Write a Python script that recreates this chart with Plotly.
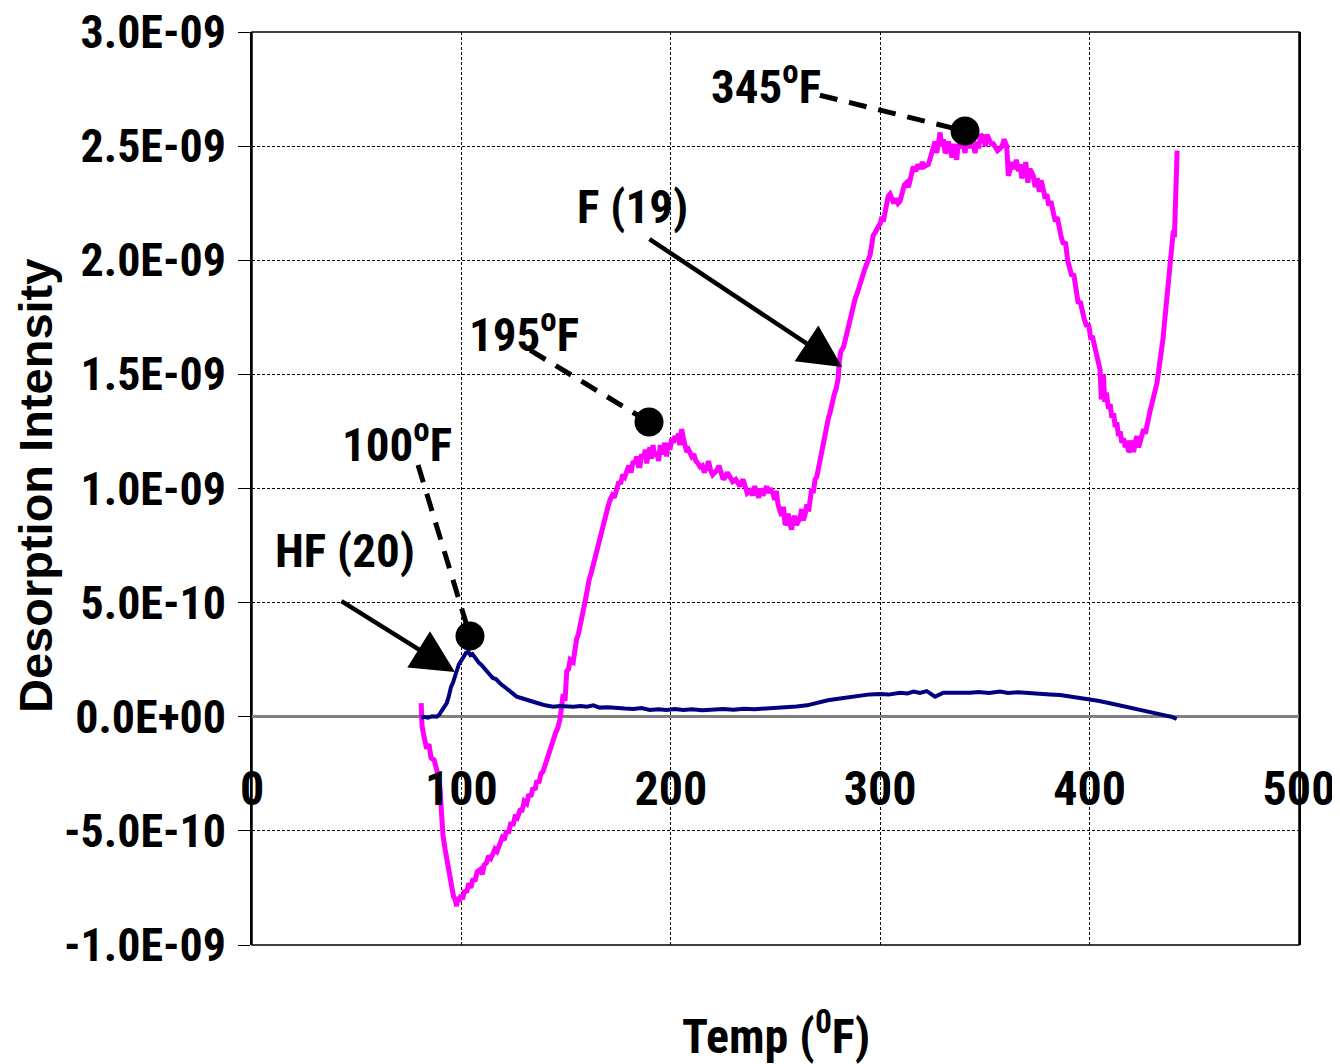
import plotly.graph_objects as go

# ---------------- data (y values in units of 1e-9) ----------------
f19_x = [80.8, 81.2, 82, 83.4, 84.5, 85.5, 87, 88.2, 89, 89.8, 90.3, 90.6, 91.2, 92.2, 93, 93.8, 94.6, 95.5, 96.3, 97,
         97.7, 98.3, 99, 99.8, 100.6, 101.5, 102.5, 103.5, 104.5, 105.5, 106.5, 107.5, 108.9, 110, 110.8, 112, 113, 114, 115.1, 116,
         117, 118.4, 119.5, 120.5, 121.5, 122.5, 123.5, 124.8, 125.8, 126.8, 128, 129, 130, 131.2, 132.2, 133.2, 134.2, 135.2, 136, 137,
         138, 139, 140, 140.7, 141.7, 142.6, 143.4, 144, 145, 146, 147.1, 147.8, 148.6, 149.5, 150.3, 151.2, 152, 153.4, 154.2, 155,
         155.8, 156.7, 157.5, 158.3, 159.2, 160, 161, 162, 162.8, 163.8, 164.6, 165.5, 166.5, 167.8, 168.8, 170, 171, 172, 173, 174.2,
         175.2, 176, 177, 178, 179, 180, 181, 182, 183, 183.7, 184.5, 185.3, 186, 187, 187.8, 188.5, 189.3, 190, 190.8, 191.5,
         192.3, 193.3, 194.2, 195, 195.8, 196.4, 197.2, 198, 198.8, 199.6, 200.5, 201.2, 202, 202.8, 203.6, 204.3, 205.2, 206, 206.8, 207.6,
         208.5, 209.2, 210, 211, 212, 213, 214, 215, 216, 217, 218, 219, 220, 221, 222, 223, 224, 225, 226, 227,
         228.3, 229.5, 231, 232, 233, 234.5, 235.5, 236.5, 237.8, 239, 240, 241, 242, 243, 244, 245, 245.8, 246.5, 247.5, 248.8,
         249.6, 250.4, 251.2, 252.2, 253, 253.8, 254.6, 255.3, 256.1, 257, 257.7, 258.4, 259.2, 260, 260.8, 261.7, 262.5, 263.3, 264.2, 265,
         265.8, 266.5, 267.3, 268, 268.9, 269.7, 270.5, 271.3, 272, 272.6, 273.3, 274, 274.7, 275.3, 276, 277, 278, 279, 279.9, 280.5,
         281.2, 282.5, 283.5, 284.5, 285.6, 286.8, 288, 289.2, 290.4, 291.5, 292.6, 293.8, 295.1, 296, 296.7, 297.5, 298.3, 299.2, 300, 300.8,
         301.5, 302.3, 303, 303.8, 304.7, 305.5, 306.5, 307.5, 308.5, 309.5, 310.5, 311.5, 312.6, 313.5, 314.5, 315.8, 317, 318, 319, 320.2,
         321, 322.2, 323, 324, 325.4, 326.2, 327, 327.8, 328.6, 329.4, 330.2, 331, 331.8, 332.6, 333.5, 334.3, 335.1, 335.8, 336.5, 337.3,
         338, 338.8, 339.7, 340.5, 341.3, 342.1, 343, 343.8, 344.5, 345.3, 346.2, 347, 348, 349.3, 350.2, 351, 352, 353, 354, 355,
         356, 357.2, 358.2, 359.2, 360.4, 361.2, 362, 363, 364, 365, 366, 366.8, 367.6, 368.5, 369.5, 370.5, 371.5, 372.3, 373.1, 374,
         375, 376, 376.8, 377.9, 378.8, 379.6, 380.5, 381.5, 382.7, 383.6, 384.5, 385.5, 386.5, 387.5, 388.5, 389.5, 390.7, 391.5, 392.4, 393.2,
         393.8, 394.6, 395.5, 396.5, 397.5, 398.6, 399.5, 400.5, 401.5, 402.5, 403.4, 404.2, 405, 405.6, 406.1, 406.6, 407.2, 408, 409, 409.8,
         410.6, 411.5, 412.2, 413, 413.8, 414.6, 415.4, 416.2, 417, 417.8, 418.6, 419.4, 420.2, 421, 421.8, 422.6, 423.4, 424.1, 425, 425.8,
         426.6, 427.3, 428.1, 428.9, 429.7, 430.5, 431.3, 432.1, 432.9, 433.6, 434.4, 435.1, 435.7, 436.3, 436.9, 437.6, 438.2, 438.8, 439.4, 440,
         440.5, 440.9, 441.3, 441.6, 441.8]
f19_y = [0.06, -0.04, -0.08, -0.14, -0.12, -0.18, -0.19, -0.23, -0.26, -0.32, -0.40, -0.48, -0.52, -0.58, -0.63, -0.66, -0.715, -0.75, -0.79, -0.80,
         -0.83, -0.79, -0.81, -0.78, -0.80, -0.76, -0.77, -0.73, -0.75, -0.71, -0.72, -0.68, -0.67, -0.69, -0.65, -0.64, -0.61, -0.62, -0.60, -0.58,
         -0.59, -0.56, -0.53, -0.54, -0.50, -0.51, -0.47, -0.47, -0.43, -0.44, -0.41, -0.41, -0.37, -0.38, -0.34, -0.35, -0.31, -0.32, -0.28, -0.29,
         -0.25, -0.24, -0.21, -0.20, -0.17, -0.15, -0.11, -0.10, -0.07, -0.05, -0.01, 0.04, 0.10, 0.07, 0.20, 0.21, 0.25, 0.24, 0.30, 0.34,
         0.36, 0.41, 0.45, 0.47, 0.51, 0.56, 0.60, 0.63, 0.66, 0.70, 0.73, 0.76, 0.81, 0.85, 0.88, 0.92, 0.95, 0.97, 0.96, 1.01,
         1.03, 1.02, 1.06, 1.05, 1.08, 1.10, 1.07, 1.12, 1.11, 1.14, 1.10, 1.10, 1.15, 1.13, 1.17, 1.11, 1.16, 1.18, 1.13, 1.19,
         1.14, 1.16, 1.12, 1.19, 1.15, 1.18, 1.20, 1.14, 1.20, 1.17, 1.22, 1.20, 1.23, 1.21, 1.24, 1.19, 1.26, 1.22, 1.18, 1.16,
         1.17, 1.15, 1.14, 1.15, 1.12, 1.11, 1.095, 1.10, 1.07, 1.09, 1.12, 1.08, 1.06, 1.07, 1.08, 1.10, 1.06, 1.04, 1.05, 1.07,
         1.05, 1.03, 1.04, 1.02, 1.01, 1.04, 1.00, 0.98, 0.99, 0.97, 1.01, 0.98, 0.96, 1.00, 0.97, 0.99, 1.01, 0.98, 1.00, 0.98,
         0.95, 0.99, 0.93, 0.90, 0.88, 0.92, 0.84, 0.85, 0.89, 0.84, 0.82, 0.86, 0.88, 0.84, 0.86, 0.87, 0.91, 0.86, 0.89, 0.93,
         0.90, 0.95, 1.00, 0.98, 1.04, 1.05, 1.09, 1.12, 1.15, 1.18, 1.23, 1.26, 1.28, 1.31, 1.33, 1.38, 1.41, 1.44, 1.48, 1.56,
         1.60, 1.62, 1.66, 1.70, 1.75, 1.79, 1.83, 1.86, 1.90, 1.93, 1.96, 1.99, 2.02, 2.07, 2.11, 2.12, 2.14, 2.15, 2.16, 2.19,
         2.17, 2.21, 2.26, 2.28, 2.29, 2.27, 2.25, 2.27, 2.25, 2.26, 2.31, 2.33, 2.34, 2.32, 2.36, 2.41, 2.39, 2.42, 2.40, 2.43,
         2.41, 2.42, 2.42, 2.45, 2.50, 2.52, 2.47, 2.53, 2.56, 2.50, 2.53, 2.47, 2.48, 2.52, 2.49, 2.45, 2.51, 2.46, 2.44, 2.51,
         2.49, 2.53, 2.51, 2.47, 2.52, 2.49, 2.54, 2.50, 2.50, 2.47, 2.52, 2.49, 2.55, 2.54, 2.50, 2.55, 2.53, 2.51, 2.51, 2.49,
         2.48, 2.49, 2.50, 2.53, 2.50, 2.37, 2.39, 2.43, 2.40, 2.44, 2.39, 2.42, 2.36, 2.38, 2.43, 2.34, 2.40, 2.38, 2.37, 2.32,
         2.36, 2.30, 2.35, 2.31, 2.27, 2.29, 2.24, 2.26, 2.20, 2.17, 2.19, 2.13, 2.10, 2.07, 2.08, 2.00, 1.96, 1.93, 1.94, 1.88,
         1.86, 1.81, 1.82, 1.77, 1.74, 1.71, 1.72, 1.66, 1.66, 1.62, 1.59, 1.56, 1.52, 1.39, 1.45, 1.50, 1.38, 1.42, 1.35, 1.37,
         1.31, 1.33, 1.27, 1.29, 1.23, 1.25, 1.20, 1.22, 1.18, 1.21, 1.16, 1.17, 1.21, 1.16, 1.20, 1.23, 1.18, 1.20, 1.22, 1.26,
         1.24, 1.28, 1.31, 1.34, 1.37, 1.40, 1.42, 1.46, 1.51, 1.55, 1.59, 1.66, 1.72, 1.78, 1.84, 1.88, 1.95, 2.01, 2.08, 2.13,
         2.10, 2.20, 2.30, 2.40, 2.48]

hf20_x = [80.8, 82, 84, 86, 88.2, 89.5, 90.5, 91.5, 93, 94, 95, 96, 96.9, 97.8, 98.8, 100.2, 101.2, 102.2, 103.3, 104.3,
          105.3, 106.3, 107.3, 108.5, 109.8, 111, 112.1, 113.5, 115, 116.5, 118.4, 120, 122, 124, 126.4, 128.5, 131, 134.3, 137, 140,
          143.9, 147, 150, 153.5, 157, 160, 163, 166, 170, 174.2, 178, 182, 186, 190, 194, 198, 202, 206, 210, 215,
          220, 225, 230, 235, 240, 245, 250, 255, 260, 265, 271.2, 275, 280.8, 285, 290.4, 295, 299.9, 304, 309.5, 313,
          316, 319, 322.2, 326.2, 330.2, 335, 339, 342.9, 347, 352, 357.2, 361, 366, 371.5, 376, 381, 385.9, 390, 395, 400.2,
          404, 409.7, 414, 418, 422.5, 427, 432, 436, 439, 441.6]
hf20_y = [-0.005, 0.0, -0.004, 0.002, 0.0, 0.01, 0.025, 0.04, 0.06, 0.09, 0.13, 0.15, 0.175, 0.21, 0.23, 0.25, 0.27, 0.28, 0.285, 0.27,
          0.275, 0.26, 0.25, 0.235, 0.225, 0.21, 0.20, 0.185, 0.17, 0.165, 0.147, 0.135, 0.12, 0.105, 0.088, 0.082, 0.074, 0.066, 0.058, 0.05,
          0.044, 0.047, 0.044, 0.044, 0.047, 0.044, 0.05, 0.04, 0.042, 0.037, 0.036, 0.034, 0.038, 0.03, 0.033, 0.03, 0.034, 0.03, 0.033, 0.028,
          0.032, 0.034, 0.031, 0.035, 0.033, 0.036, 0.035, 0.04, 0.045, 0.05, 0.066, 0.072, 0.08, 0.086, 0.095, 0.098, 0.10, 0.097, 0.105, 0.102,
          0.11, 0.104, 0.112, 0.088, 0.105, 0.104, 0.106, 0.105, 0.108, 0.104, 0.11, 0.104, 0.107, 0.105, 0.102, 0.098, 0.095, 0.09, 0.084, 0.076,
          0.07, 0.059, 0.05, 0.04, 0.03, 0.022, 0.012, 0.006, 0.0, -0.01]

# highlighted peaks (black dots)
peak_x = [104.1, 189.6, 340.5]
peak_y = [0.354, 1.291, 2.566]
peak_labels = ["100<sup>o</sup>F", "195<sup>o</sup>F", "345<sup>o</sup>F"]
peak_label_x = [69.2, 129.9, 245.5]
peak_label_y = [1.208, 1.69, 2.777]
leader_start_x = [79.3, 132.8, 271.2]
leader_start_y = [1.103, 1.606, 2.723]

y_tick_vals = [-1.0, -0.5, 0.0, 0.5, 1.0, 1.5, 2.0, 2.5, 3.0]
y_tick_text = ["-1.0E-09", "-5.0E-10", "0.0E+00", "5.0E-10", "1.0E-09", "1.5E-09", "2.0E-09", "2.5E-09", "3.0E-09"]
x_tick_vals = [0, 100, 200, 300, 400, 500]
x_tick_text = ["0", "100", "200", "300", "400", "500"]

SCALE = 1e-9
NARROW = "Roboto Condensed, Liberation Sans, Arial, sans-serif"
WIDE = "Liberation Sans, Arial, sans-serif"

fig = go.Figure()
fig.add_trace(go.Scatter(x=f19_x, y=[v * SCALE for v in f19_y], mode="lines",
                         line=dict(color="#FF00FF", width=5), name="F (19)", showlegend=False))
fig.add_trace(go.Scatter(x=hf20_x, y=[v * SCALE for v in hf20_y], mode="lines",
                         line=dict(color="#000080", width=4), name="HF (20)", showlegend=False))

# leader dashed lines
for sx, sy, px, py in zip(leader_start_x, leader_start_y, peak_x, peak_y):
    fig.add_shape(type="line", xref="x", yref="y", x0=sx, y0=sy * SCALE, x1=px, y1=py * SCALE,
                  line=dict(color="black", width=5, dash="18px,12px"), layer="above")

fig.add_trace(go.Scatter(x=peak_x, y=[v * SCALE for v in peak_y], mode="markers",
                         marker=dict(color="black", size=29), showlegend=False))

lab_font = dict(family=NARROW, size=47, color="black", weight="bold")
for t, lx, ly in zip(peak_labels, peak_label_x, peak_label_y):
    fig.add_annotation(x=lx, y=ly * SCALE, xref="x", yref="y", text=t, showarrow=False, font=lab_font)

# series labels with arrows
fig.add_annotation(x=44.5, y=0.73 * SCALE, text="HF (20)", showarrow=False, font=lab_font)
fig.add_annotation(x=181.5, y=2.237 * SCALE, text="F (19)", showarrow=False, font=lab_font)
fig.add_annotation(x=96.9, y=0.196 * SCALE, ax=42, ay=0.511 * SCALE, axref="x", ayref="y", text="",
                   showarrow=True, arrowhead=2, arrowsize=1.9, arrowwidth=4.5, arrowcolor="black")
fig.add_annotation(x=281.8, y=1.532 * SCALE, ax=189.1, ay=2.097 * SCALE, axref="x", ayref="y", text="",
                   showarrow=True, arrowhead=2, arrowsize=1.9, arrowwidth=4.5, arrowcolor="black")

# axis titles
fig.add_annotation(x=0.5, y=-0.0964, xref="paper", yref="paper", text="Temp (<sup>0</sup>F)", showarrow=False,
                   font=dict(family=NARROW, size=48, color="black", weight="bold"),
                   xanchor="center", yanchor="middle")
fig.add_annotation(x=-0.2073, y=0.5027, xref="paper", yref="paper", text="Desorption Intensity", showarrow=False,
                   textangle=-90, xanchor="center", yanchor="middle",
                   font=dict(family=WIDE, size=47, color="black", weight="bold"))

# frame
fig.add_shape(type="rect", xref="paper", yref="paper", x0=0, y0=0, x1=1, y1=1,
              line=dict(color="black", width=1.5), layer="below")

fig.update_layout(
    width=1332, height=1056,
    margin=dict(l=244, r=41, t=24, b=119),
    paper_bgcolor="white", plot_bgcolor="white",
    showlegend=False,
    xaxis=dict(range=[0, 500], tickvals=x_tick_vals, ticktext=x_tick_text,
               anchor="free", position=0.25, showline=False, zeroline=False,
               showgrid=True, gridcolor="black", gridwidth=1, griddash="3px,2px",
               ticks="outside", ticklen=30, tickcolor="rgba(0,0,0,0)",
               ticklabeloverflow="allow",
               tickfont=dict(family=NARROW, size=48, color="black", weight="bold"),
               automargin=False),
    yaxis=dict(range=[-1.0e-9, 3.0e-9], tickvals=[v * SCALE for v in y_tick_vals], ticktext=y_tick_text,
               showline=True, linecolor="black", linewidth=1.5, mirror=True,
               zeroline=True, zerolinecolor="#808080", zerolinewidth=3,
               showgrid=True, gridcolor="black", gridwidth=1, griddash="3px,2px",
               ticks="outside", ticklen=12, tickcolor="black", tickwidth=1, ticklabelstandoff=3,
               ticklabeloverflow="allow",
               tickfont=dict(family=NARROW, size=46, color="black", weight="bold"),
               automargin=False),
)

fig.write_html("out.html")
